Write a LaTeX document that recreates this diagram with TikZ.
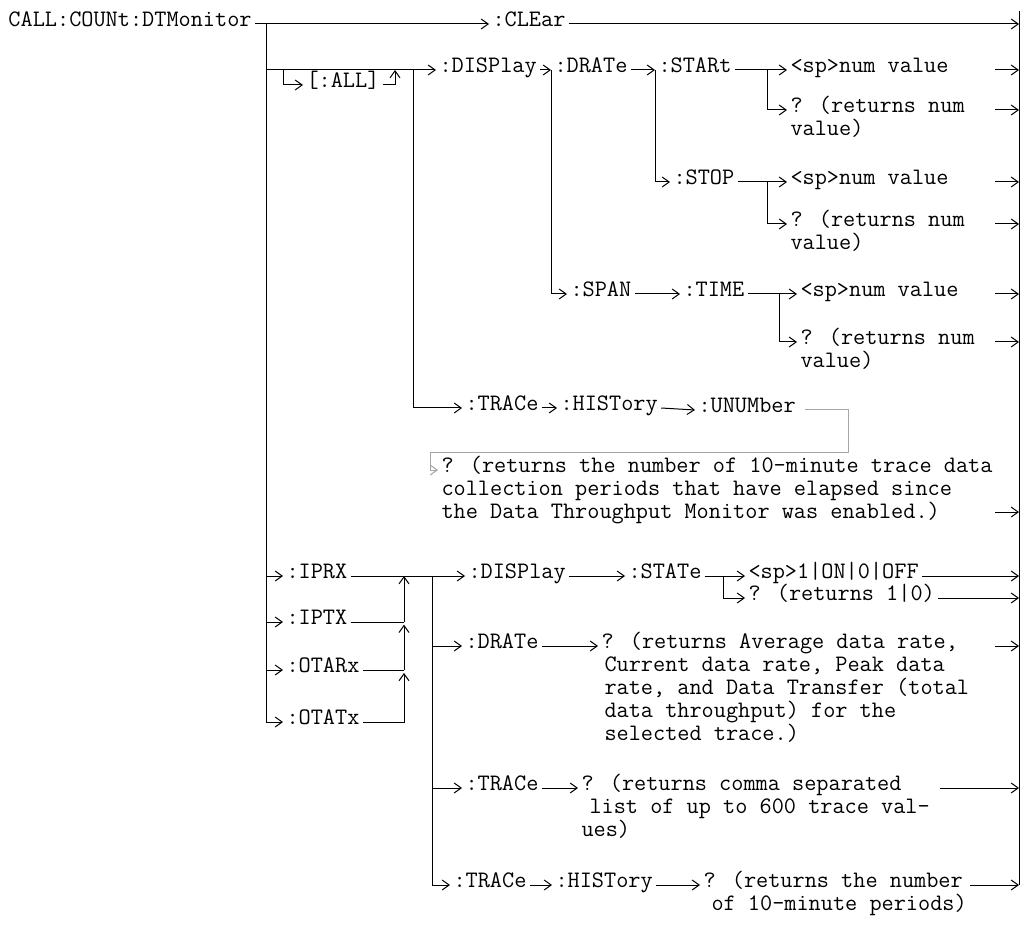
\documentclass[tikz,border=0pt]{standalone}
\usepackage{tikz}
\usetikzlibrary{arrows.meta}

\newcommand{\scpifont}{\ttfamily\fontsize{23.6}{23}\selectfont\lineskiplimit=-50pt\relax}
\newcommand{\rows}[1]{\vtop{\halign{##\hfil\cr#1\crcr}}}

\begin{document}
\begin{tikzpicture}[x=1pt,y=-1pt,>={Straight Barb[length=7pt,width=10pt]},line width=1pt,
    every node/.style={font=\scpifont,anchor=mid west,inner xsep=3pt,inner ysep=0pt},
    back/.style={draw=gray!70}]
  \useasboundingbox (0,0) rectangle (1029,925);

  % top level
  \node (dtm)   at (5,24)   {CALL:COUNt:DTMonitor};
  \node (clear) at (489,24) {:CLEar};
  \coordinate (b0)   at (266,24);
  \coordinate (rtop) at (1019,11);
  \coordinate (rbot) at (1019,885);
  \coordinate (tail) at (995,0);
  \coordinate (tail2) at (940,0);

  % :DISPlay tree
  \node (all)   at (303,85)  {[:ALL]};
  \node (disp)  at (436,70)  {:DISPlay};
  \node (drate) at (551,70)  {:DRATe};
  \node (start) at (655,70)  {:STARt};
  \node (sp1)   at (787,70)  {<sp>num value};
  \node (q1)    at (787,110) {\rows{? (returns num\cr value)}};
  \node (stop)  at (670,182) {:STOP};
  \node (sp2)   at (787,182) {<sp>num value};
  \node (q2)    at (787,224) {\rows{? (returns num\cr value)}};
  \node (span)  at (567,294) {:SPAN};
  \node (time)  at (680,294) {:TIME};
  \node (sp3)   at (797,294) {<sp>num value};
  \node (q3)    at (797,342) {\rows{? (returns num\cr value)}};

  \node (trace) at (462,408) {:TRACe};
  \node (hist)  at (557,408) {:HISTory};
  \node (unum)  at (695,410) {:UNUMber};
  \node (qunum) at (438,470) {\rows{? (returns the number of 10-minute trace data\cr
    collection periods that have elapsed since\cr the Data Throughput Monitor was enabled.)}};

  % :IPRX ... :OTATx tree
  \node (iprx)   at (283,576) {:IPRX};
  \node (iptx)   at (283,622) {:IPTX};
  \node (otarx)  at (283,670) {:OTARx};
  \node (otatx)  at (283,722) {:OTATx};
  \node (disp2)  at (465,576) {:DISPlay};
  \node (state)  at (625,576) {:STATe};
  \node (spon)   at (745,576) {<sp>1|ON|0|OFF};
  \node (ret10)  at (745,598) {? (returns 1|0)};
  \node (drate2) at (462,646) {:DRATe};
  \node (qavg)   at (598,646) {\rows{? (returns Average data rate,\cr
    \hspace*{3pt}Current data rate, Peak data\cr\hspace*{3pt}rate, and Data Transfer (total\cr
    \hspace*{3pt}data throughput) for the\cr\hspace*{3pt}selected trace.)}};
  \node (trace2) at (462,788) {:TRACe};
  \node (qcomma) at (578,788) {\rows{? (returns comma separated\cr
    \hspace*{8pt}list of up to 600 trace val-\cr ues)}};
  \node (trace3) at (450,885) {:TRACe};
  \node (hist3)  at (552,885) {:HISTory};
  \node (qnum)   at (700,885) {\rows{? (returns the number\cr\hspace*{8pt}of 10-minute periods)}};

  \coordinate (allin)  at (283,70);
  \coordinate (allout) at (395,70);
  \coordinate (b1)     at (413,70);
  \coordinate (up)     at (404,0);
  \coordinate (b2)     at (432,576);
  \coordinate (gr)     at (848,453);
  \coordinate (gl)     at (430,453);

  % buses
  \draw (rtop) -- (rbot);
  \draw[->] (dtm.mid east) -- (clear.mid west);
  \draw[->] (clear.mid east) -- (clear.mid east -| rtop);
  \draw[->] (b0) |- (otatx.mid west);
  \foreach \n in {disp,iprx,iptx,otarx}
    \draw[->] (b0 |- \n.mid west) -- (\n.mid west);

  \draw[->] (allin) |- (all.mid west);
  \draw[->] (all.mid east) -| (allout);
  \draw[->] (b1) |- (trace.mid west);
  \draw[->] (drate.mid west) |- (span.mid west);
  \draw[->] (start.mid west) |- (stop.mid west);
  \draw[->] (sp1.mid west) ++(-20,0) |- (q1.mid west);
  \draw[->] (sp2.mid west) ++(-20,0) |- (q2.mid west);
  \draw[->] (sp3.mid west) ++(-18,0) |- (q3.mid west);
  \path[->] (disp.mid east) edge (drate.mid west)
            (drate.mid east) edge (start.mid west)
            (start.mid east) edge (sp1.mid west)
            (stop.mid east) edge (sp2.mid west)
            (span.mid east) edge (time.mid west)
            (time.mid east) edge (sp3.mid west)
            (trace.mid east) edge (hist.mid west)
            (hist.mid east) edge (unum.mid west);
  \draw[back,->] (unum.mid east) ++(6,0) -| (gr) -- (gl) |- (qunum.mid west);

  \draw[->] (otatx.mid east) -| (up |- otarx.south);
  \draw (otarx.mid east) -- (up |- otarx.mid east);
  \draw[->] (up |- otarx.mid east) -- (up |- iptx.south);
  \draw (iptx.mid east) -- (up |- iptx.mid east);
  \draw[->] (up |- iptx.mid east) -- (up |- iprx.mid east);
  \draw[->] (iprx.mid east) -- (disp2.mid west);
  \draw[->] (b2) |- (trace3.mid west);
  \foreach \n in {drate2,trace2}
    \draw[->] (b2 |- \n.mid west) -- (\n.mid west);
  \draw[->] (spon.mid west) ++(-22,0) |- (ret10.mid west);
  \path[->] (disp2.mid east) edge (state.mid west)
            (state.mid east) edge (spon.mid west)
            (drate2.mid east) edge (qavg.mid west)
            (trace2.mid east) edge (qcomma.mid west)
            (trace3.mid east) edge (hist3.mid west)
            (hist3.mid east) edge (qnum.mid west);

  % into the right bus
  \foreach \n in {sp1,q1,sp2,q2,sp3,q3,qavg}
    \draw[->] (\n.mid east -| tail) -- (\n.mid east -| rtop);
  \path (qunum.south) ++(0,-12) coordinate (qunumr);
  \draw[->] (qunumr -| tail) -- (qunumr -| rtop);
  \draw[->] (qcomma.mid east -| tail2) -- (qcomma.mid east -| rtop);
  \foreach \n in {spon,ret10,qnum}
    \draw[->] (\n.mid east) -- (\n.mid east -| rtop);
\end{tikzpicture}
\end{document}
